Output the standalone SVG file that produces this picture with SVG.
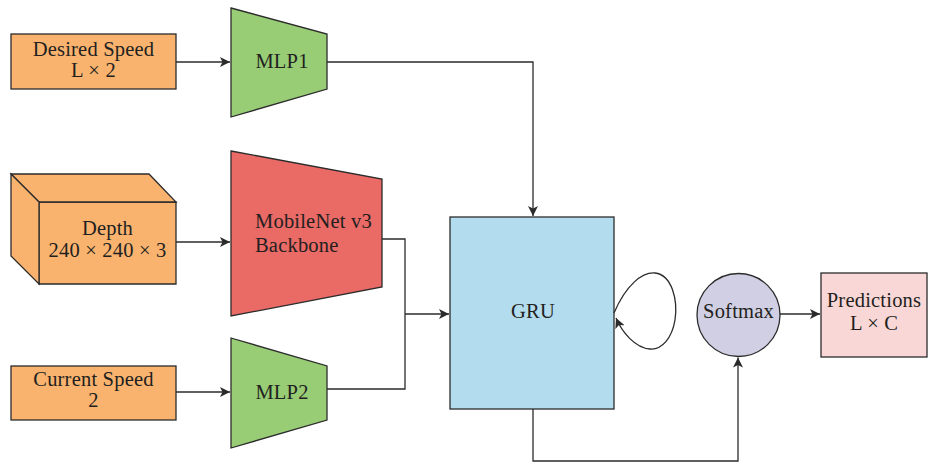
<svg xmlns="http://www.w3.org/2000/svg" width="930" height="462" viewBox="0 0 930 462">
<defs>
<style>
.n{stroke:#2b2b2b;stroke-width:1.3}
.t{font-family:"Liberation Serif","Times New Roman",serif;font-size:20.5px;letter-spacing:0.2px;fill:#231f20}
.c{fill:none;stroke:#2b2b2b;stroke-width:1.3}
</style>
<marker id="ah" viewBox="0 0 10 10" refX="10" refY="5" markerWidth="10" markerHeight="10" markerUnits="userSpaceOnUse" orient="auto">
<path d="M0,0 L10,5 L0,10 L2.5,5 Z" fill="#2b2b2b"/>
</marker>
</defs>
<rect width="930" height="462" fill="#fff"/>
<g id="desired-speed">
<rect class="n" x="11" y="34" width="165" height="55" fill="#F9B36F"/>
<text class="t" x="93.5" y="56" text-anchor="middle">Desired Speed</text>
<text class="t" x="93.5" y="77" text-anchor="middle">L × 2</text>
</g>
<g id="depth">
<path class="n" d="M39,202 L176,202 L176,284 L39,284 Z" fill="#F9B36F"/>
<path class="n" d="M11,174 L149,174 L176,202 L39,202 Z" fill="#F9B36F"/>
<path class="n" d="M11,174 L39,202 L39,284 L11,256 Z" fill="#F9B36F"/>
<text class="t" x="107.5" y="235" text-anchor="middle">Depth</text>
<text class="t" x="107.5" y="257" text-anchor="middle">240 × 240 × 3</text>
</g>
<g id="current-speed">
<rect class="n" x="11" y="366" width="165" height="54" fill="#F9B36F"/>
<text class="t" x="93.5" y="386" text-anchor="middle">Current Speed</text>
<text class="t" x="93.5" y="407" text-anchor="middle">2</text>
</g>
<g id="mlp1">
<path class="n" d="M231,8 L327,34 L327,89 L231,117 Z" fill="#98CD76"/>
<text class="t" x="282" y="68" text-anchor="middle">MLP1</text>
</g>
<g id="mobilenet">
<path class="n" d="M231,151 L382,179 L382,287 L231,316 Z" fill="#EA6A66"/>
<text class="t" x="255" y="228">MobileNet v3</text>
<text class="t" x="255" y="252">Backbone</text>
</g>
<g id="mlp2">
<path class="n" d="M231,338 L327,366 L327,420 L231,448 Z" fill="#98CD76"/>
<text class="t" x="282" y="399" text-anchor="middle">MLP2</text>
</g>
<g id="gru">
<rect class="n" x="450" y="217" width="164" height="192" fill="#B4DCEF"/>
<text class="t" x="533" y="318" text-anchor="middle">GRU</text>
</g>
<g id="softmax">
<circle class="n" cx="738.5" cy="315" r="41.5" fill="#D0CFE3"/>
<text class="t" x="738.5" y="318" text-anchor="middle">Softmax</text>
</g>
<g id="predictions">
<rect class="n" x="821" y="273" width="106" height="84" fill="#F9D7D7"/>
<text class="t" x="874" y="307" text-anchor="middle">Predictions</text>
<text class="t" x="874" y="330" text-anchor="middle">L × C</text>
</g>
<g id="connectors">
<path class="c" d="M176,62 L230,62" marker-end="url(#ah)"/>
<path class="c" d="M176,242 L230,242" marker-end="url(#ah)"/>
<path class="c" d="M176,392 L230,392" marker-end="url(#ah)"/>
<path class="c" d="M327,62 L533,62 L533,216" marker-end="url(#ah)"/>
<path class="c" d="M382,239 L405,239 L405,389 L327,389"/>
<path class="c" d="M405,314 L449,314" marker-end="url(#ah)"/>
<path class="c" d="M614,313 C626,285 642,272 655,273 C672,275 678,300 675,320 C672,338 662,350 650,349 C635,348 622,332 616,318" marker-end="url(#ah)"/>
<path class="c" d="M533,409 L533,461 L738,461 L738,357.5" marker-end="url(#ah)"/>
<path class="c" d="M780,314 L820,314" marker-end="url(#ah)"/>
</g>
</svg>
